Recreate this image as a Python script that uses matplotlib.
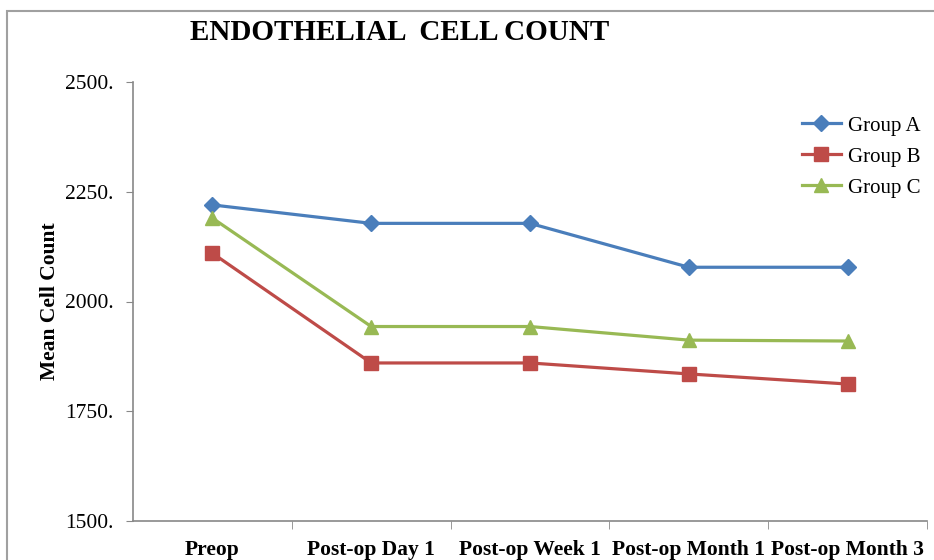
import matplotlib
matplotlib.use('Agg')
import matplotlib.pyplot as plt
from matplotlib.patches import Rectangle
from matplotlib.ticker import FixedLocator, FuncFormatter

categories = ['Preop', 'Post-op Day 1', 'Post-op Week 1', 'Post-op Month 1', 'Post-op Month 3']
group_a = [2220, 2178, 2178, 2078, 2078]
group_b = [2110, 1860, 1860, 1835, 1812]
group_c = [2190, 1943, 1943, 1912, 1910]
y_ticks = [1500, 1750, 2000, 2250, 2500]

plt.rcParams['font.family'] = 'Liberation Serif'

fig = plt.figure(figsize=(9.34, 5.6), dpi=100)
ax = fig.add_axes([133 / 934, 1 - 521 / 560, (927 - 133) / 934, (521 - 82) / 560])

x = list(range(len(categories)))
ax.plot(x, group_a, color='#4a7ebb', marker='D', markersize=8.5, lw=2.3, label='Group A')
ax.plot(x, group_b, color='#be4b48', marker='s', markersize=9.5, lw=2.3, label='Group B')
ax.plot(x, group_c, color='#98b954', marker='^', markersize=10.5, lw=2.3, label='Group C')

ax.set_xlim(-0.5, len(categories) - 0.5)
ax.set_ylim(1500, 2500)
ax.set_yticks(y_ticks)
ax.yaxis.set_major_formatter(FuncFormatter(lambda v, p: '%d.' % v))
ax.set_xticks(x)
ax.set_xticklabels(categories, fontweight='bold', fontsize=15.5)
ax.xaxis.set_minor_locator(FixedLocator([i + 0.5 for i in x]))
ax.tick_params(axis='x', which='major', length=0, pad=14)
ax.tick_params(axis='x', which='minor', length=6, color='#888888')
ax.tick_params(axis='y', length=5, color='#888888', labelsize=15.5, pad=9)

for s in ['top', 'right']:
    ax.spines[s].set_visible(False)
for s in ['left', 'bottom']:
    ax.spines[s].set_color('#888888')
    ax.spines[s].set_linewidth(1.2)

ax.set_ylabel('Mean Cell Count', fontweight='bold', fontsize=15.5)
ax.yaxis.set_label_coords(-0.092, 0.5)

fig.text(400 / 934, 1 - 33 / 560, 'ENDOTHELIAL  CELL COUNT', ha='center', va='center',
         fontsize=21, fontweight='bold')

ax.legend(loc='upper right', bbox_to_anchor=(1.015, 0.965), frameon=False, fontsize=15,
          handlelength=1.9, labelspacing=0.55, handletextpad=0.3)

fig.patches.append(Rectangle((7 / 934, -0.1), 1.5, 1 - 11 / 560 + 0.1, transform=fig.transFigure,
                             fill=False, edgecolor='#a0a0a0', lw=1.5))

fig.savefig('out.png', dpi=100)
